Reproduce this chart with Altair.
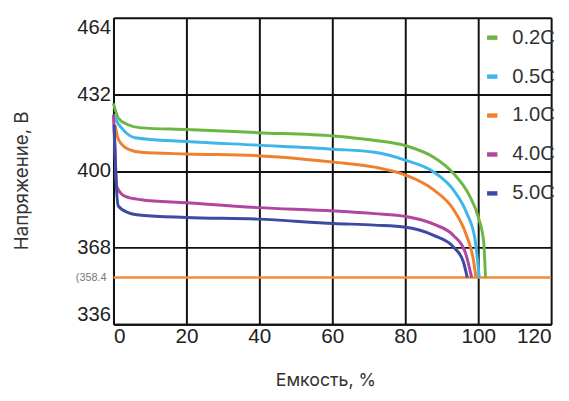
import altair as alt
import pandas as pd

series_names = ["0.2C", "0.5C", "1.0C", "4.0C", "5.0C"]
series_colors = ["#6cb744", "#3fb6ea", "#f0802e", "#b0469e", "#3d4aa2"]

cap_02 = [0, 1.35, 4, 7.6, 20, 39.6, 60.4, 71.4, 80.2, 87.8, 93.2, 97.7, 100.2, 101.5, 102]
volt_02 = [428.2, 422, 419.3, 418, 417.3, 416, 414.6, 412.8, 410.5, 405.7, 399, 389.4, 379.9, 370.4, 355.5]

cap_05 = [0, 1, 2.2, 5.9, 20, 39.6, 60.4, 71.6, 80.2, 87.8, 93.2, 96.8, 99.1, 100.3]
volt_05 = [423.5, 420.5, 418, 413.9, 412.3, 410.8, 409.1, 407.8, 404.4, 399.6, 392.1, 382.6, 371.7, 355.5]

cap_10 = [0.4, 1.35, 4, 7.6, 20, 39.6, 60.4, 71.6, 80.2, 87.8, 93.2, 96.8, 98.6, 99.4]
volt_10 = [419.3, 413.2, 409.1, 407.8, 407.1, 406.4, 403.7, 401.6, 398.2, 392.1, 384, 373.1, 363.6, 355.5]

cap_40 = [0, 0.5, 0.9, 3.2, 7.6, 20, 39.6, 60.4, 71.6, 80.2, 87.8, 93.2, 96.4, 98.2]
volt_40 = [423.5, 405, 393.5, 389.4, 388, 386.7, 384.7, 383.3, 382.2, 381, 377.8, 373.1, 366.3, 355.5]

cap_50 = [0.2, 0.6, 1.35, 4, 7.6, 20, 39.6, 60.4, 71.6, 80.2, 87.8, 93.2, 95.9, 97]
volt_50 = [419.3, 400, 385.3, 382.6, 381.5, 380.6, 379.9, 378.1, 377.4, 376.5, 373.1, 368.3, 362.2, 355.5]

cutoff_voltage = [355.5]
cutoff_label = ["(358.4"]

x_ticks = [0, 20, 40, 60, 80, 100, 120]
y_ticks = [336, 352, 368, 384, 400, 416, 432, 448, 464]

rows = []
for name, xs, ys in zip(series_names,
                        [cap_02, cap_05, cap_10, cap_40, cap_50],
                        [volt_02, volt_05, volt_10, volt_40, volt_50]):
    for i, (xv, yv) in enumerate(zip(xs, ys)):
        rows.append({"series": name, "capacity": xv, "voltage": yv, "order": i})
df = pd.DataFrame(rows)
cut_df = pd.DataFrame({"voltage": cutoff_voltage, "label": cutoff_label})

x_scale = alt.Scale(domain=[0, 120], nice=False, zero=False)
y_scale = alt.Scale(domain=[336, 464], nice=False, zero=False)

x_axis = alt.Axis(
    values=x_ticks, title="Емкость, %", grid=True, gridColor="#111", gridWidth=2,
    domainColor="#111", domainWidth=2, ticks=False,
    labelFont="Liberation Sans", labelFontSize=21, labelColor="#222",
    labelPadding=2, labelFlush=True,
    titleFont="Inter", titleFontSize=18, titleFontWeight="normal", titleColor="#333",
    titleX=215, titleY=57, titleBaseline="middle", titleAlign="center",
)
y_axis = alt.Axis(
    values=y_ticks, title="Напряжение, В", grid=True, gridColor="#111", gridWidth=2,
    domainColor="#111", domainWidth=2, ticks=False,
    labelExpr="(datum.value - 336) % 32 == 0 ? datum.label : ''",
    labelFont="Liberation Sans", labelFontSize=20.5, labelColor="#222",
    labelPadding=3, labelFlush=True,
    titleFont="Inter", titleFontSize=19, titleFontWeight="normal", titleColor="#333",
    titleX=-93, titleY=165, titleBaseline="middle", titleAlign="center", titleAngle=270,
)

lines = alt.Chart(df).mark_line(strokeWidth=3, interpolate="monotone").encode(
    x=alt.X("capacity:Q", scale=x_scale, axis=x_axis),
    y=alt.Y("voltage:Q", scale=y_scale, axis=y_axis),
    color=alt.Color(
        "series:N",
        scale=alt.Scale(domain=series_names, range=series_colors),
        legend=alt.Legend(
            title=None, orient="none", legendX=374, legendY=10,
            symbolType="stroke", symbolSize=110, symbolStrokeWidth=4.5,
            labelFont="Liberation Sans", labelFontSize=20.5, labelColor="#333",
            labelOffset=10, rowPadding=18.5, padding=0,
        ),
    ),
    order="order:Q",
)

cut_rule = alt.Chart(cut_df).mark_rule(color="#f28b3a", strokeWidth=2.5).encode(
    y=alt.Y("voltage:Q", scale=y_scale)
)
cut_text = alt.Chart(cut_df).mark_text(
    align="right", baseline="middle", fontSize=11, color="#777", dx=-7,
    font="Liberation Sans", clip=False,
).encode(
    x=alt.value(0), y=alt.Y("voltage:Q", scale=y_scale), text="label:N"
)

chart = alt.layer(cut_rule, lines, cut_text).properties(
    width=444, height=311,
    autosize=alt.AutoSizeParams(type="none"),
    padding={"left": 107, "top": 7, "right": 10, "bottom": 75},
).configure_view(stroke="#111", strokeWidth=2).configure(background="white")

chart.save("out.html", embed_options={"renderer": "svg", "actions": False})
